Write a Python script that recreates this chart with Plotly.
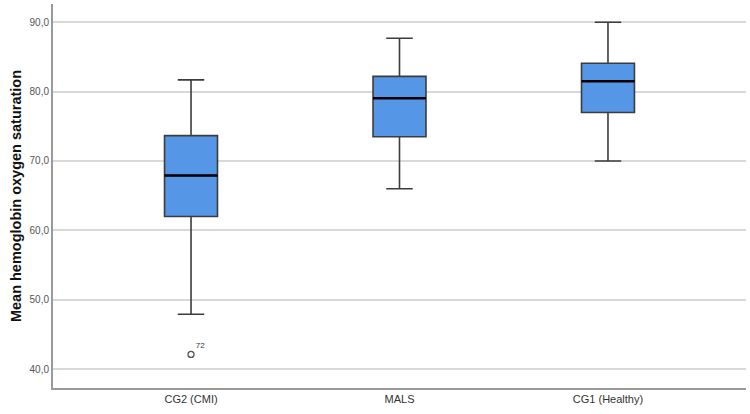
import plotly.graph_objects as go

categories = ["CG2 (CMI)", "MALS", "CG1 (Healthy)"]
q1 = [62.0, 73.5, 77.0]
median = [67.9, 79.05, 81.5]
q3 = [73.65, 82.2, 84.1]
lower = [47.9, 66.0, 70.0]
upper = [81.7, 87.7, 90.0]
outlier_cat = ["CG2 (CMI)"]
outlier_val = [42.1]
outlier_lbl = ["72"]
y_ticks = [40, 50, 60, 70, 80, 90]

BOX_W = 0.254

fig = go.Figure()
fig.add_trace(go.Box(
    x=categories, q1=q1, median=median, q3=q3,
    lowerfence=lower, upperfence=upper,
    width=BOX_W, whiskerwidth=0.5,
    fillcolor="#5596E6",
    line=dict(color="#3c3c3c", width=1.6),
    boxpoints=False, showlegend=False, hoverinfo="skip",
))
fig.add_trace(go.Scatter(
    x=outlier_cat, y=outlier_val, mode="markers+text",
    text=outlier_lbl, textposition="top right",
    textfont=dict(size=8, color="#333333", family="Liberation Sans"),
    marker=dict(symbol="circle-open", size=6, color="#555555", line=dict(width=1.3)),
    showlegend=False, hoverinfo="skip", cliponaxis=False,
))
# thicker black median lines
for i, m in enumerate(median):
    fig.add_shape(type="line", xref="x", yref="y",
                  x0=i - BOX_W / 2, x1=i + BOX_W / 2, y0=m, y1=m,
                  line=dict(color="#000000", width=2.6))

fig.update_layout(
    width=750, height=414,
    margin=dict(l=53, r=4, t=4, b=26),
    paper_bgcolor="white", plot_bgcolor="white",
    separators=", ",
    font=dict(family="Liberation Sans"),
)
fig.update_xaxes(
    type="category", categoryarray=categories,
    range=[-0.662, 2.662], automargin=False,
    showline=True, linecolor="#9a9a9a", linewidth=2,
    showgrid=False, ticks="",
    tickfont=dict(size=11, color="#333333"),
)
fig.update_yaxes(
    range=[37.26, 92.64], automargin=False,
    tickvals=y_ticks, tickformat=".1f",
    showline=True, linecolor="#9a9a9a", linewidth=2,
    showgrid=True, gridcolor="#d9d9d9", gridwidth=1.5,
    zeroline=False, ticks="",
    tickfont=dict(size=10, color="#555555"),
    title=dict(text="<b>Mean hemoglobin oxygen saturation</b>",
               font=dict(size=14.5, color="#111111"), standoff=4),
)

fig.write_html("out.html",
               config={"displayModeBar": False},
               post_script="document.body.style.margin='0';document.body.style.overflow='hidden';")
